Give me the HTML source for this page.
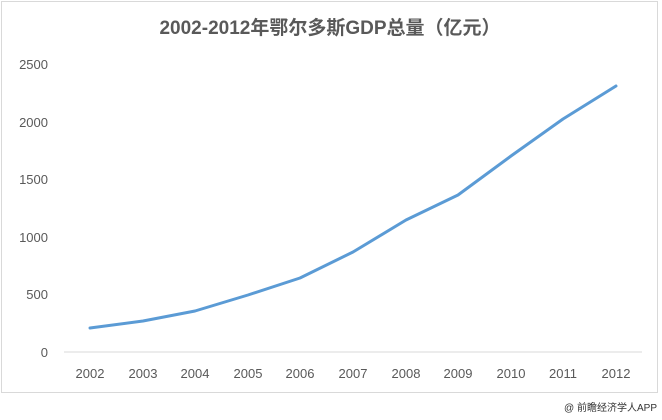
<!DOCTYPE html>
<html><head><meta charset="utf-8"><style>
body{margin:0;background:#fff;width:662px;height:420px;overflow:hidden;font-family:"Liberation Sans","Noto Sans CJK SC",sans-serif}
</style></head><body>
<svg width="662" height="420" xmlns="http://www.w3.org/2000/svg" style="position:absolute;left:0;top:0">
<rect x="1.5" y="1.5" width="656" height="391" fill="#fff" stroke="#d9d9d9" stroke-width="1"/>
<text x="330" y="34" text-anchor="middle" font-size="19" font-weight="bold" fill="#595959" font-family="Liberation Sans, Noto Sans CJK SC, sans-serif">2002-2012年鄂尔多斯GDP总量（亿元）</text>
<line x1="64" y1="352" x2="642" y2="352" stroke="#d9d9d9" stroke-width="1"/>
<g font-size="13" fill="#595959" text-anchor="end">
<text x="48" y="357">0</text>
<text x="48" y="299">500</text>
<text x="48" y="242">1000</text>
<text x="48" y="184">1500</text>
<text x="48" y="127">2000</text>
<text x="48" y="69">2500</text>
</g>
<g font-size="13" fill="#595959" text-anchor="middle">
<text x="90" y="378">2002</text><text x="143" y="378">2003</text><text x="195" y="378">2004</text>
<text x="248" y="378">2005</text><text x="300" y="378">2006</text><text x="353" y="378">2007</text>
<text x="406" y="378">2008</text><text x="458" y="378">2009</text><text x="511" y="378">2010</text>
<text x="563" y="378">2011</text><text x="616" y="378">2012</text>
</g>
<polyline fill="none" stroke="#5b9bd5" stroke-width="3" stroke-linejoin="round" stroke-linecap="round"
points="90,328 143,321 195,311 248,295 300,278 353,252 406,220 458,195 511,156 563,119 616,86"/>
<text x="657" y="411" text-anchor="end" font-size="10" fill="#333">@ 前瞻经济学人APP</text>
</svg>
</body></html>
